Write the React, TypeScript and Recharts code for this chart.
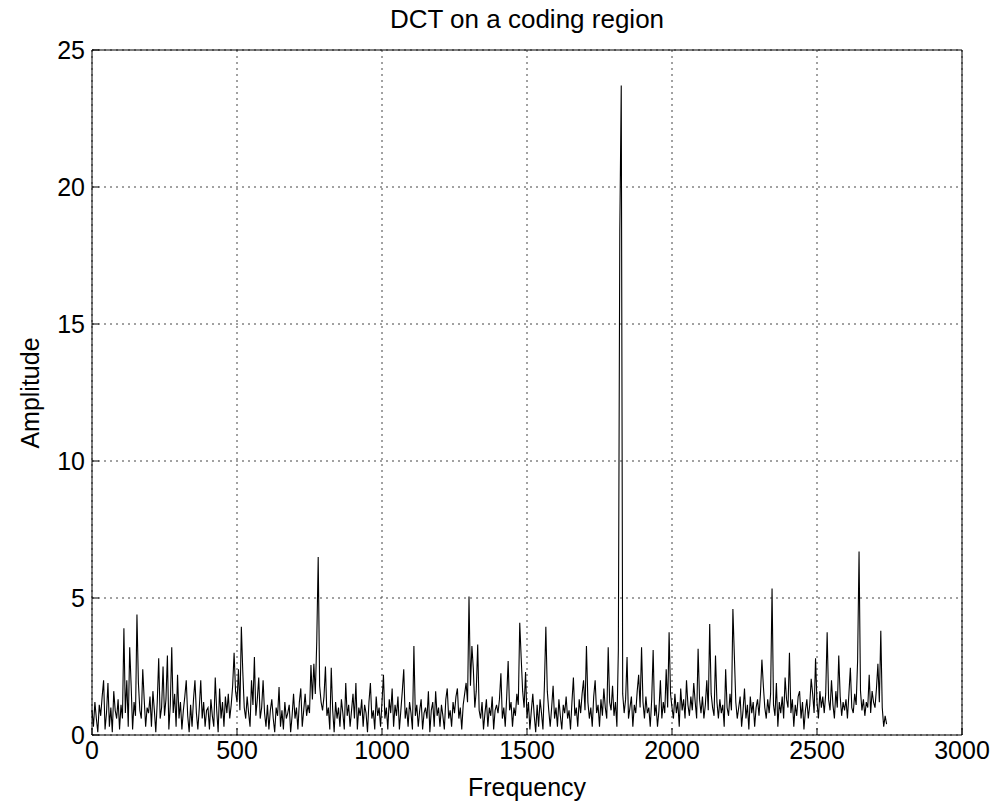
import { LineChart, Line, XAxis, YAxis, CartesianGrid, ReferenceLine } from 'recharts';

// DCT bins are spaced evenly; one value every FREQ_STEP units
const FREQ_STEP = 5;

const X_TICKS = [0, 500, 1000, 1500, 2000, 2500, 3000];
const Y_TICKS = [0, 5, 10, 15, 20, 25];

// amplitudes, 0 .. 495
const amp0 = [
  0.9, 0.3, 1.2, 0.6, 0.1, 1.1, 0.7, 1.4, 2.0, 0.2, 0.8, 1.9, 0.3, 1.0, 0.1, 1.6, 0.9, 0.6, 1.3, 0.2,
  1.1, 0.6, 3.9, 0.8, 2.0, 0.3, 3.2, 1.8, 0.2, 1.2, 0.7, 4.4, 1.9, 0.9, 0.6, 2.4, 1.3, 0.3, 1.0, 0.8,
  1.4, 0.3, 1.6, 0.9, 0.1, 1.2, 2.8, 0.6, 1.0, 2.5, 0.7, 1.3, 2.9, 0.2, 1.1, 3.2, 0.8, 1.5, 0.3, 2.2,
  0.6, 1.2, 0.2, 0.9, 1.4, 2.0, 0.7, 0.1, 1.1, 0.3, 1.3, 2.0, 0.8, 0.2, 1.0, 2.0, 0.6, 1.2, 0.3, 0.9,
  1.0, 0.2, 1.3, 0.7, 0.3, 2.1, 0.9, 0.1, 1.7, 0.6, 1.2, 0.3, 1.4, 0.8, 1.5, 0.6, 1.1, 1.8, 3.0, 1.6,
];

// 500 .. 995
const amp500 = [
  1.2, 2.4, 0.9, 3.95, 2.3, 1.0, 0.6, 1.4, 0.8, 0.3, 2.0, 1.1, 2.85, 0.7, 1.3, 2.1, 0.6, 1.0, 2.0, 0.8,
  0.3, 1.1, 0.2, 0.9, 1.3, 0.6, 0.1, 1.0, 0.7, 1.75, 0.3, 0.9, 0.2, 1.2, 0.6, 0.8, 1.1, 0.1, 0.7, 1.5,
  0.6, 1.0, 0.2, 1.2, 1.7, 0.3, 0.9, 1.5, 0.7, 1.1, 0.8, 2.55, 1.3, 2.6, 1.5, 3.4, 6.5, 1.8, 1.2, 0.9,
  1.4, 2.5, 0.7, 1.0, 0.2, 2.45, 0.9, 0.1, 1.2, 0.6, 1.0, 0.3, 1.3, 0.8, 0.2, 1.9, 0.7, 1.1, 0.3, 0.9,
  1.5, 0.6, 1.9, 0.2, 1.0, 0.7, 1.3, 0.3, 1.1, 0.8, 0.1, 1.2, 1.9, 0.6, 0.9, 0.2, 1.4, 0.7, 1.0, 0.3,
];

// 1000 .. 1495
const amp1000 = [
  1.2, 2.2, 0.6, 1.0, 0.2, 1.3, 0.8, 1.7, 0.3, 1.1, 0.7, 1.4, 0.2, 0.9, 1.6, 2.4, 0.6, 1.0, 0.3, 1.2,
  0.8, 0.2, 3.25, 0.7, 1.1, 0.3, 0.9, 1.3, 0.2, 0.8, 1.0, 0.6, 1.6, 0.1, 0.9, 1.2, 0.3, 1.6, 0.7, 1.0,
  0.3, 1.1, 0.7, 0.2, 1.3, 1.7, 0.6, 0.9, 0.3, 1.2, 0.8, 1.4, 1.7, 0.6, 1.0, 0.2, 1.1, 1.5, 1.9, 1.2,
  5.05, 1.8, 3.25, 2.4, 1.0, 1.6, 3.3, 0.9, 0.6, 1.2, 0.2, 0.8, 1.3, 0.3, 1.0, 0.7, 1.4, 0.2, 0.9, 1.1,
  0.8, 1.3, 2.25, 0.6, 1.0, 0.3, 1.4, 2.7, 0.9, 1.2, 0.3, 1.0, 0.7, 1.5, 1.1, 4.1, 2.8, 1.6, 1.0, 2.3,
];

// 1500 .. 1995
const amp1500 = [
  0.6, 1.2, 0.2, 0.9, 1.5, 0.7, 0.1, 1.1, 0.3, 1.3, 0.8, 0.2, 1.8, 3.95, 1.6, 0.9, 0.3, 1.0, 1.8, 0.6,
  1.0, 0.3, 1.3, 0.7, 0.2, 1.1, 0.8, 1.4, 0.6, 0.9, 0.2, 1.2, 2.1, 0.7, 1.0, 0.3, 1.3, 0.8, 1.5, 2.0,
  0.9, 3.25, 1.2, 0.6, 1.0, 0.3, 1.4, 2.0, 0.8, 1.1, 0.3, 1.3, 0.7, 1.7, 1.0, 0.6, 3.2, 1.2, 0.9, 1.8,
  0.7, 1.2, 0.3, 3.1, 18.4, 23.7, 1.5, 0.8, 1.3, 2.85, 0.6, 1.0, 1.4, 0.3, 1.1, 0.8, 1.6, 2.2, 1.0, 3.2,
  1.2, 0.6, 1.4, 0.8, 1.0, 0.3, 1.3, 3.1, 0.7, 1.1, 0.3, 0.9, 2.0, 0.6, 1.2, 0.8, 2.4, 1.0, 3.75, 1.5,
];

// 2000 .. 2495
const amp2000 = [
  1.0, 0.6, 1.5, 0.8, 1.2, 0.3, 1.7, 0.9, 1.3, 0.6, 2.0, 1.1, 0.7, 1.4, 0.9, 1.9, 1.2, 0.6, 3.15, 1.3,
  0.8, 1.4, 0.6, 1.1, 2.0, 0.9, 4.05, 1.5, 1.0, 0.7, 2.9, 1.2, 0.6, 1.3, 0.8, 1.1, 0.3, 2.4, 1.0, 0.7,
  1.5, 0.9, 4.6, 2.9, 1.2, 0.6, 1.0, 1.4, 0.3, 0.9, 1.7, 0.6, 1.1, 0.2, 1.4, 0.8, 1.2, 0.3, 1.0, 1.3,
  0.7, 1.5, 2.75, 1.8, 1.0, 0.6, 1.3, 0.8, 1.5, 5.35, 1.1, 0.7, 1.9, 0.3, 1.2, 0.8, 1.4, 0.6, 2.1, 1.3,
  1.0, 3.0, 0.8, 1.3, 0.3, 1.1, 0.7, 1.4, 1.6, 0.6, 1.2, 0.2, 0.9, 1.3, 0.6, 1.1, 2.05, 1.5, 0.8, 2.8,
];

// 2500 .. 2740
const amp2500 = [
  1.2, 0.6, 1.6, 1.0, 1.4, 0.8, 1.5, 3.75, 1.3, 0.9, 2.0, 1.1, 0.6, 1.6, 1.0, 2.9, 1.4, 0.7, 1.2, 0.9,
  1.3, 0.6, 1.5, 2.45, 1.0, 0.8, 1.5, 1.1, 2.7, 6.7, 1.6, 0.9, 1.3, 0.7, 1.2, 1.0, 2.2, 0.8, 1.6, 1.2,
  1.0, 1.7, 2.6, 1.2, 3.8, 1.0, 0.3, 0.7, 0.4,
];

const amplitudes = [...amp0, ...amp500, ...amp1000, ...amp1500, ...amp2000, ...amp2500];
const chartData = amplitudes.map((amp, i) => ({ freq: i * FREQ_STEP, amp }));

const FONT = '"Liberation Sans", Arial, Helvetica, sans-serif';
const tickStyle = { fontSize: 25, fill: '#000', fontFamily: FONT };

export default function App() {
  return (
    <div style={{ position: 'absolute', left: 0, top: 0, width: 995, height: 807, background: '#fff', fontFamily: FONT }}>
      <LineChart
        width={995}
        height={807}
        data={chartData}
        margin={{ top: 50, right: 33, bottom: 0, left: 0 }}
      >
        <CartesianGrid stroke="#444" strokeDasharray="2 4" />
        <XAxis
          dataKey="freq"
          type="number"
          domain={[0, 3000]}
          ticks={X_TICKS}
          height={72}
          tickSize={-7}
          tickMargin={13}
          tick={tickStyle}
          stroke="#000"
          interval={0}
        />
        <XAxis
          xAxisId="top"
          orientation="top"
          type="number"
          domain={[0, 3000]}
          ticks={X_TICKS}
          height={0}
          tickSize={-7}
          tick={() => <g />}
          stroke="#000"
        />
        <YAxis
          type="number"
          domain={[0, 25]}
          ticks={Y_TICKS}
          width={92}
          tickSize={-7}
          tickMargin={14}
          tick={tickStyle}
          stroke="#000"
          interval={0}
        />
        <YAxis
          yAxisId="right"
          orientation="right"
          type="number"
          domain={[0, 25]}
          ticks={Y_TICKS}
          width={0}
          tickSize={-7}
          tick={() => <g />}
          stroke="#000"
        />
        <ReferenceLine y={25} stroke="#000" />
        <ReferenceLine x={3000} stroke="#000" />
        <Line
          type="linear"
          dataKey="amp"
          stroke="#000"
          strokeWidth={1.1}
          dot={false}
          isAnimationActive={false}
        />
      </LineChart>
      <div style={{ position: 'absolute', left: 0, width: 1054, top: 6, textAlign: 'center', fontSize: 26, lineHeight: '26px', color: '#000' }}>
        DCT on a coding region
      </div>
      <div style={{ position: 'absolute', left: 0, width: 1054, top: 775, textAlign: 'center', fontSize: 25, lineHeight: '25px', color: '#000' }}>
        Frequency
      </div>
      <div
        style={{
          position: 'absolute',
          left: 30,
          top: 393,
          fontSize: 25,
          lineHeight: '25px',
          whiteSpace: 'nowrap',
          color: '#000',
          transform: 'translate(-50%, -50%) rotate(-90deg)',
        }}
      >
        Amplitude
      </div>
    </div>
  );
}
